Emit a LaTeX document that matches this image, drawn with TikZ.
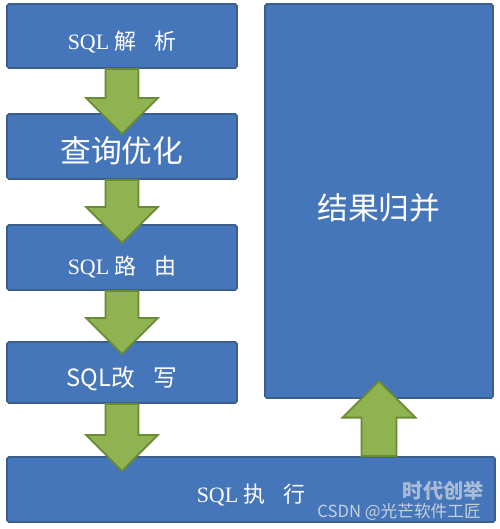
\documentclass[tikz,border=0pt]{standalone}
\usepackage{fontspec}
\setmainfont{Liberation Serif}
\newfontfamily\cjk{Noto Sans CJK SC}
\usepackage{tikz}
\usepackage{xcolor}
\definecolor{boxblue}{HTML}{4676BA}
\definecolor{boxline}{HTML}{3A5F8E}
\definecolor{arrowgreen}{HTML}{8FB350}
\definecolor{arrowline}{HTML}{6A8A35}
\definecolor{markblue}{HTML}{A9BCD6}
\definecolor{markgray}{HTML}{C8D0DA}

\begin{document}
\begin{tikzpicture}[
    stage/.style={draw=boxline, fill=boxblue, line width=1pt, rounded corners=1pt, inner sep=0pt},
    stagetext/.style={text=white, font=\fontsize{12.5}{14}\selectfont},
    sanstext/.style={text=white, font=\cjk\fontsize{13.5}{16}\selectfont},
    bigtext/.style={text=white, font=\cjk\fontsize{17.5}{20}\selectfont},
    flow/.style={draw=arrowline, fill=arrowgreen, line width=1pt, line join=miter}
  ]
  \useasboundingbox (0,0) rectangle (10,-10.58);
  \node[stage, minimum width=4.6cm, minimum height=1.28cm, label={[stagetext,yshift=-0.12cm]center:SQL {\cjk 解\hspace{0.8em}析}}] (parse) at (2.44,-0.72) {};
  \node[stage, minimum width=4.6cm, minimum height=1.30cm, label={[bigtext,yshift=-0.08cm]center:查询优化}] (optimize) at (2.44,-2.93) {};
  \node[stage, minimum width=4.6cm, minimum height=1.30cm, label={[stagetext,yshift=-0.19cm]center:SQL {\cjk 路\hspace{0.8em}由}}] (route) at (2.44,-5.15) {};
  \node[stage, minimum width=4.6cm, minimum height=1.22cm, label={[sanstext,yshift=-0.13cm]center:SQL改\hspace{0.8em}写}] (rewrite) at (2.44,-7.45) {};
  \node[stage, minimum width=9.76cm, minimum height=1.30cm, label={[stagetext,yshift=-0.12cm]center:SQL {\cjk 执\hspace{0.8em}行}}] (execute) at (5.02,-9.79) {};
  \node[stage, minimum width=4.56cm, minimum height=7.88cm, label={[bigtext,yshift=-0.14cm]center:结果归并}] (merge) at (7.58,-4.02) {};
  \draw[flow, shift={(parse.south)}] (-0.33,0) -- (-0.33,-0.58) -- (-0.72,-0.58) -- (0,-1.30) -- (0.72,-0.58) -- (0.33,-0.58) -- (0.33,0) -- cycle;
  \draw[flow, shift={(optimize.south)}] (-0.33,0) -- (-0.33,-0.54) -- (-0.72,-0.54) -- (0,-1.26) -- (0.72,-0.54) -- (0.33,-0.54) -- (0.33,0) -- cycle;
  \draw[flow, shift={(route.south)}] (-0.33,0) -- (-0.33,-0.54) -- (-0.72,-0.54) -- (0,-1.26) -- (0.72,-0.54) -- (0.33,-0.54) -- (0.33,0) -- cycle;
  \draw[flow, shift={(rewrite.south)}] (-0.33,0) -- (-0.33,-0.62) -- (-0.72,-0.62) -- (0,-1.34) -- (0.72,-0.62) -- (0.33,-0.62) -- (0.33,0) -- cycle;
  \draw[flow, shift={(merge.south |- execute.north)}] (-0.35,0) -- (-0.35,0.77) -- (-0.73,0.77) -- (0,1.50) -- (0.73,0.77) -- (0.35,0.77) -- (0.35,0) -- cycle;
  \node[anchor=east, text=markblue, font=\cjk\bfseries\fontsize{11.5}{13}\selectfont] (mark) at (9.8,-9.82) {时代创举};
  \node[anchor=east, text=markgray, font=\cjk\fontsize{9.5}{11}\selectfont] (credit) at (9.74,-10.24) {CSDN @光芒软件工匠};
\end{tikzpicture}
\end{document}
